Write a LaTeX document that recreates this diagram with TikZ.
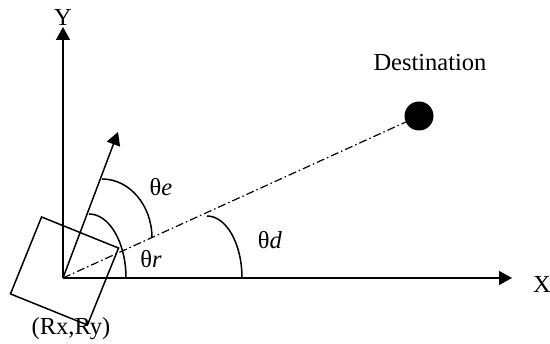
\documentclass[tikz,border=0pt]{standalone}
\usepackage{fontspec}
\setmainfont{Liberation Serif}
\usepackage{tikz}
\usetikzlibrary{arrows.meta,positioning,calc}
\tikzset{
  % axis with filled arrow head
  axisline/.style={-{Triangle[length=13pt,width=14pt]}, line width=1.5pt},
  % heading of the robot
  headline/.style={-{Triangle[length=13pt,width=14pt]}, line width=1.5pt},
  % line to the goal
  goalline/.style={line width=1.2pt, dash pattern=on 8pt off 3pt on 1.5pt off 3pt},
  % angle arc
  anglearc/.style={line width=1.5pt},
  % robot body
  robotbox/.style={draw, line width=1.5pt, minimum size=83pt, inner sep=0pt},
  % goal point
  goaldot/.style={circle, fill=black, minimum size=29pt, inner sep=0pt},
  % text label
  lbl/.style={font=\fontsize{24.5}{28}\selectfont, inner sep=0pt},
}
\begin{document}
\begin{tikzpicture}[x=1pt,y=1pt]
  \useasboundingbox (0,0) rectangle (550,344);
  % robot and axes
  \coordinate (O) at (63,66);
  \node[robotbox, rotate=-22] (robot) at (64.5,73) {};
  \coordinate (ytip) at (63,317);
  \coordinate (xtip) at (512,66);
  \draw[axisline] (O) -- (ytip);
  \draw[axisline] (O) -- (xtip);
  \node[lbl] (ylab) at (63,327) {Y};
  \node[lbl] (xlab) at (542,60) {X};
  \node[lbl] (pos) at (71,15) {(Rx,Ry)};

  % heading
  \coordinate (head) at (118,212);
  \draw[headline] (O) -- (head);

  % destination
  \node[goaldot] (dest) at (419,228) {};
  \node[lbl] (destlab) at (430,281) {Destination};
  \draw[goalline] (O) -- (dest);

  % angles
  \draw[anglearc] (89,130) arc[start angle=90, end angle=0, x radius=37, y radius=64];
  \draw[anglearc] (102,165) arc[start angle=90, end angle=0, x radius=50, y radius=59];
  \draw[anglearc] (207,128) arc[start angle=90, end angle=0, x radius=35, y radius=62];
  \node[lbl] (thr) at (151,85) {θ\textit{r}};
  \node[lbl] (the) at (161,157) {θ\textit{e}};
  \node[lbl] (thd) at (270,104) {θ\textit{d}};
\end{tikzpicture}
\end{document}
